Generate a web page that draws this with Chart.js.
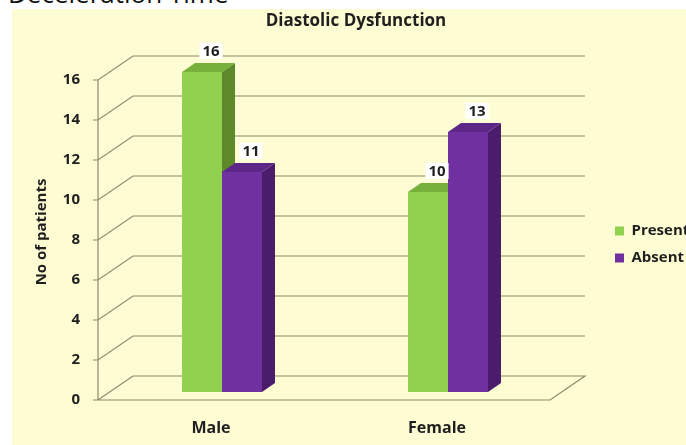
<!DOCTYPE html>
<html>
<head>
<meta charset="utf-8">
<script src="https://cdn.jsdelivr.net/npm/chart.js@4.4.1/dist/chart.umd.min.js"></script>
<style>
  html, body { margin: 0; padding: 0; background: #fff; overflow: hidden; }
  #wrap { position: relative; width: 686px; height: 445px; overflow: hidden; }
  #panel { position: absolute; left: 12px; top: 9px; right: 0; bottom: 0; background: #fdfcd3; }
  #heading { position: absolute; left: 8px; top: -20px; font: 26px "Open Sans", sans-serif; line-height: 26px; color: #111; white-space: nowrap; }
  canvas { position: absolute; left: 0; top: 0; }
</style>
</head>
<body>
<div id="wrap">
  <div id="heading">Deceleration Time</div>
  <div id="panel"></div>
  <canvas id="chart" width="686" height="445"></canvas>
</div>
<script>
const categories = ['Male', 'Female'];
const present = [16, 10];
const absent = [11, 13];
const seriesNames = ['Present', 'Absent'];

const textColor = '#1f1f1f';
const gridColor = '#8d8a6d';
const faces = [
  { front: '#92d050', side: '#5f8a2c', top: '#78b03c' },
  { front: '#7030a0', side: '#4b1c6c', top: '#5c2787' },
];
// 3d offsets relative to the bar plane
const FRONT = { dx: -11, dy: 8 };
const BACK = { dx: 24, dy: -16 };
const DEPTH = { dx: 13, dy: -9 };

const family = '"Open Sans", sans-serif';
Chart.defaults.font.family = family;
Chart.defaults.color = textColor;

const boldFont = size => ({ family, size, weight: 'bold' });

const poly = (ctx, pts, fill) => {
  ctx.beginPath();
  ctx.moveTo(pts[0][0], pts[0][1]);
  pts.slice(1).forEach(p => ctx.lineTo(p[0], p[1]));
  ctx.closePath();
  ctx.fillStyle = fill;
  ctx.fill();
};

const scene3d = {
  id: 'scene3d',
  beforeInit(chart) {
    const fit = chart.legend.fit;
    chart.legend.fit = function () { fit.call(this); this.width = 125; };
  },
  afterLayout(chart) {
    const lg = chart.legend;
    lg.left += 42;
    lg.top += 22;
    lg.bottom += 22;
  },
  beforeDatasetsDraw(chart) {
    const { ctx, chartArea: { left, right }, scales: { y } } = chart;
    ctx.save();
    ctx.strokeStyle = gridColor;
    ctx.lineWidth = 1.2;
    ctx.beginPath();
    y.ticks.forEach(t => {
      const py = y.getPixelForValue(t.value);
      ctx.moveTo(left + FRONT.dx - 5, py + FRONT.dy);
      ctx.lineTo(left + FRONT.dx, py + FRONT.dy);
      ctx.lineTo(left + BACK.dx, py + BACK.dy);
      if (t.value !== y.min) ctx.lineTo(right + BACK.dx, py + BACK.dy);
    });
    const y0 = y.getPixelForValue(y.min);
    const yTop = y.getPixelForValue(y.max);
    ctx.moveTo(left + FRONT.dx, yTop + FRONT.dy);
    ctx.lineTo(left + FRONT.dx, y0 + FRONT.dy);
    ctx.lineTo(right + FRONT.dx, y0 + FRONT.dy);
    ctx.lineTo(right + BACK.dx, y0 + BACK.dy);
    ctx.lineTo(left + BACK.dx, y0 + BACK.dy);
    ctx.stroke();

    // side and top faces of the bars
    chart.data.datasets.forEach((ds, i) => {
      chart.getDatasetMeta(i).data.forEach(bar => {
        const { x, y: top, base, width } = bar.getProps(['x', 'y', 'base', 'width'], true);
        const l = x - width / 2, r = x + width / 2;
        poly(ctx, [[r, top], [r + DEPTH.dx, top + DEPTH.dy], [r + DEPTH.dx, base + DEPTH.dy], [r, base]], faces[i].side);
        poly(ctx, [[l, top], [l + DEPTH.dx, top + DEPTH.dy], [r + DEPTH.dx, top + DEPTH.dy], [r, top]], faces[i].top);
      });
    });
    ctx.restore();
  },
  afterDatasetsDraw(chart) {
    const { ctx } = chart;
    ctx.save();
    ctx.font = `bold 15px ${family}`;
    ctx.textAlign = 'center';
    ctx.textBaseline = 'middle';
    chart.data.datasets.forEach((ds, i) => {
      chart.getDatasetMeta(i).data.forEach((bar, j) => {
        const { x, y: top } = bar.getProps(['x', 'y'], true);
        const txt = String(ds.data[j]);
        const cx = x + 9, cy = top - 21;
        const w = ctx.measureText(txt).width + 6;
        ctx.fillStyle = '#ffffff';
        ctx.fillRect(cx - w / 2, cy - 8, w, 16);
        ctx.fillStyle = textColor;
        ctx.fillText(txt, cx, cy + 1);
      });
    });
    ctx.restore();
  },
};

new Chart(document.getElementById('chart'), {
  type: 'bar',
  data: {
    labels: categories,
    datasets: [
      { label: seriesNames[0], data: present, backgroundColor: faces[0].front, borderWidth: 0 },
      { label: seriesNames[1], data: absent, backgroundColor: faces[1].front, borderWidth: 0 },
    ],
  },
  options: {
    responsive: false,
    animation: false,
    layout: { padding: { left: 26, top: 0, right: 0, bottom: 0 } },
    datasets: { bar: { barPercentage: 1, categoryPercentage: 0.354 } },
    scales: {
      x: {
        grid: { display: false, drawTicks: false },
        border: { display: false },
        ticks: { font: boldFont(16), color: textColor, padding: 27, labelOffset: FRONT.dx },
        afterFit: s => { s.height = 53; },
      },
      y: {
        min: 0,
        max: 16,
        grid: { display: false, drawTicks: false },
        border: { display: false },
        ticks: { stepSize: 2, font: boldFont(15), color: textColor, padding: 29, labelOffset: FRONT.dy },
        title: { display: true, text: 'No of patients', font: boldFont(15), color: textColor, padding: { top: 7, bottom: 0 } },
        afterFit: s => { s.width = 83; },
      },
    },
    plugins: {
      title: {
        display: true,
        text: 'Diastolic Dysfunction',
        font: boldFont(17),
        color: textColor,
        padding: { top: 11, bottom: 40.6 },
      },
      legend: {
        position: 'right',
        labels: { boxWidth: 9, boxHeight: 9, padding: 12, font: boldFont(15), color: textColor },
      },
      tooltip: { enabled: false },
    },
  },
  plugins: [scene3d],
});
</script>
</body>
</html>
